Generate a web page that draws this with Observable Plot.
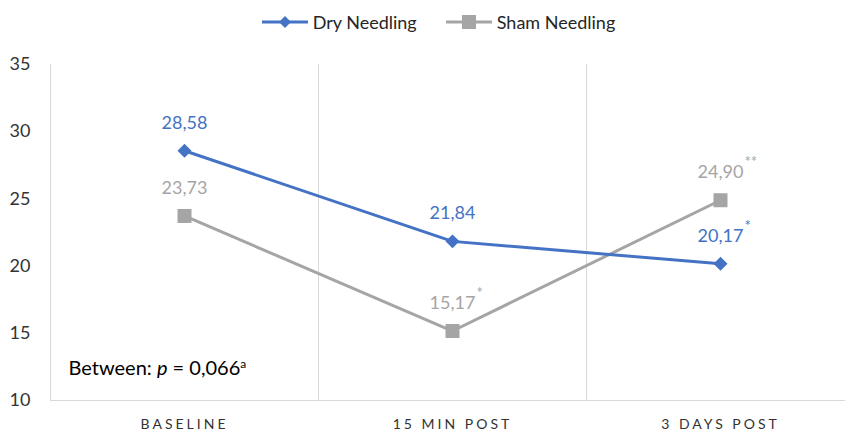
<!DOCTYPE html>
<html><head><meta charset="utf-8">
<script src="https://cdn.jsdelivr.net/npm/d3@7"></script>
<script src="https://cdn.jsdelivr.net/npm/@observablehq/plot@0.6"></script>
<style>
html,body{margin:0;padding:0;background:#fff;}
#wrap{width:845px;height:433px;overflow:hidden;font-family:Lato,"Open Sans",sans-serif;}
#legend{height:44px;display:flex;justify-content:center;align-items:center;gap:29px;font-size:18px;color:#262626;padding-left:32px;box-sizing:border-box;}
.item{display:flex;align-items:center;gap:5px;}
#chart svg{max-width:none !important;}
</style></head>
<body><div id="wrap"><div id="legend"></div><div id="chart"></div></div>
<script>
const categories = ["BASELINE", "15 MIN POST", "3 DAYS POST"];
const seriesNames = ["Dry Needling", "Sham Needling"];
const seriesColors = ["#4472C4", "#A5A5A5"];
const dryValues = [28.58, 21.84, 20.17];
const shamValues = [23.73, 15.17, 24.90];
const dryStars = ["", "", "*"];
const shamStars = ["", "*", "**"];
const yTicks = [10, 15, 20, 25, 30, 35];
const annotation = "Between: p = 0,066a";

const rows = [];
categories.forEach((c, i) => {
  rows.push({series: seriesNames[1], cat: c, value: shamValues[i], star: shamStars[i]});
  rows.push({series: seriesNames[0], cat: c, value: dryValues[i], star: dryStars[i]});
});
const fmt = v => v.toFixed(2).replace(".", ",");

// legend
const legend = d3.select("#legend");
seriesNames.forEach((name, i) => {
  const it = legend.append("div").attr("class", "item");
  const s = it.append("svg").attr("width", 46).attr("height", 16);
  s.append("line").attr("x1", 0).attr("x2", 46).attr("y1", 8).attr("y2", 8)
    .attr("stroke", seriesColors[i]).attr("stroke-width", 3);
  if (i === 0) s.append("path").attr("d", d3.symbol(d3.symbolDiamond2, 90)()).attr("transform", "translate(23,8)").attr("fill", seriesColors[i]);
  else s.append("rect").attr("x", 16).attr("y", 1).attr("width", 14).attr("height", 14).attr("fill", seriesColors[i]);
  it.append("span").text(name);
});

const W = 854, H = 389, ml = 50, mr = 0, mt = 20, mb = 33;
const xs = Plot.scale({x: {type: "band", domain: categories, range: [ml, W - mr], padding: 0}});
const bw = xs.bandwidth;

const chart = Plot.plot({
  width: W, height: H,
  marginLeft: ml, marginRight: mr, marginTop: mt, marginBottom: mb,
  style: {fontFamily: "Lato, 'Open Sans', sans-serif", background: "transparent", maxWidth: "none"},
  x: {type: "band", domain: categories, padding: 0, label: null},
  y: {domain: [10, 35], label: null},
  color: {domain: seriesNames, range: seriesColors},
  marks: [
    Plot.ruleX(categories, {x: d => d, dx: -bw / 2, stroke: "#d9d9d9", strokeWidth: 1}),
    Plot.ruleY([10], {stroke: "#d9d9d9", strokeWidth: 1}),
    Plot.axisY({ticks: yTicks, tickSize: 0, tickPadding: 20, fontSize: 18, fill: "#333"}),
    Plot.axisX({tickSize: 0, tickPadding: 19, fontSize: 14, fill: "#333", className: "xax"}),
    Plot.line(rows, {x: "cat", y: "value", z: "series", stroke: "series", strokeWidth: 3}),
    Plot.dot(rows.filter(d => d.series === seriesNames[1]), {x: "cat", y: "value", symbol: "square", r: 7.9, fill: "series", stroke: "none"}),
    Plot.dot(rows.filter(d => d.series === seriesNames[0]), {x: "cat", y: "value", symbol: "diamond2", r: 6.3, fill: "series", stroke: "none"}),
    Plot.text(rows, {x: "cat", y: "value", text: d => fmt(d.value), fill: "series", dy: -28, fontSize: 18}),
    Plot.text(rows, {x: "cat", y: "value", text: "star", fill: "series", dy: -38, dx: 24, textAnchor: "start", fontSize: 15}),
    Plot.text([annotation], {frameAnchor: "bottom-left", dx: 18, dy: -32, lineAnchor: "middle", textAnchor: "start", fontSize: 20, fill: "#000", className: "annot"})
  ]
});
document.getElementById("chart").appendChild(chart);
d3.select(chart).selectAll(".xax text").style("letter-spacing", "3px");
const t = d3.select(chart).select(".annot text");
t.text(null);
t.append("tspan").text("Between: ");
t.append("tspan").attr("font-style", "italic").text("p");
t.append("tspan").text(" = 0,066");
t.append("tspan").attr("font-size", 12).attr("dy", -7).text("a");
</script></body></html>
